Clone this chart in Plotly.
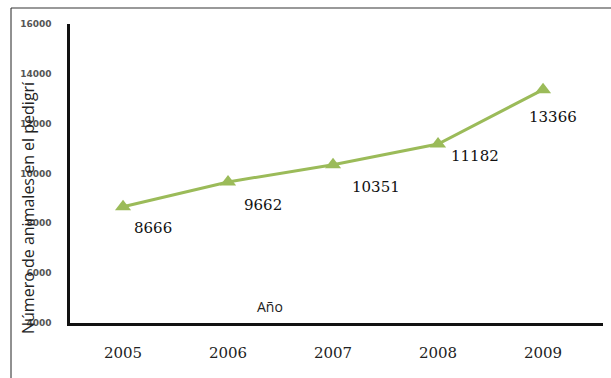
import plotly.graph_objects as go

years = ["2005", "2006", "2007", "2008", "2009"]
animals = [8666, 9662, 10351, 11182, 13366]
y_ticks = [4000, 6000, 8000, 10000, 12000, 14000, 16000]
label_dx = [30, 35, 43, 37, 10]
label_dy = [-21, -23, -22, -12, -27]

W, H = 611, 378
L, R, T, B = 70, 8, 24, 55
pw, ph = W - L - R, H - T - B

def px(x):
    return (x - L) / pw

def py(y):
    return (H - B - y) / ph

xs = list(range(len(years)))

fig = go.Figure()
fig.add_trace(go.Scatter(
    x=xs, y=animals, mode="lines+markers",
    line=dict(color="#9BBB59", width=3),
    marker=dict(symbol="triangle-up", size=14, color="#9BBB59"),
    showlegend=False, hoverinfo="skip",
))

for i, (xv, yv) in enumerate(zip(xs, animals)):
    fig.add_annotation(
        x=xv, y=yv, text=str(yv), showarrow=False,
        xshift=label_dx[i], yshift=label_dy[i],
        xanchor="center", yanchor="middle",
        font=dict(family="DejaVu Serif", size=15, color="#111"),
    )

fig.add_annotation(
    xref="paper", yref="paper", x=px(28), y=py(208),
    xanchor="center", yanchor="middle",
    text="Número de animales en el pedigrí", textangle=-90, showarrow=False,
    font=dict(family="Open Sans", size=16, color="#222"),
)
fig.add_annotation(
    xref="paper", yref="paper", x=px(270), y=py(306),
    xanchor="center", yanchor="middle",
    text="Año", showarrow=False,
    font=dict(family="Open Sans", size=14, color="#222"),
)

# outer frame (top and left)
fig.add_shape(type="line", xref="paper", yref="paper",
              x0=px(11), x1=px(611), y0=py(8), y1=py(8),
              line=dict(color="#777", width=1.5))
fig.add_shape(type="line", xref="paper", yref="paper",
              x0=px(11), x1=px(11), y0=py(8), y1=py(378),
              line=dict(color="#222", width=1))

fig.update_xaxes(
    range=[-0.505, 4.571], tickmode="array", tickvals=xs, ticktext=years,
    showgrid=False, zeroline=False, showline=True, linecolor="#111", linewidth=2.5,
    ticks="", ticklabelstandoff=14,
    tickfont=dict(family="DejaVu Serif", size=15, color="#222"),
)
fig.update_yaxes(
    range=[4000, 16000], tickmode="array", tickvals=y_ticks,
    ticktext=[str(v) for v in y_ticks],
    showgrid=False, zeroline=False, showline=True, linecolor="#111", linewidth=2.5,
    ticks="", ticklabelstandoff=14,
    tickfont=dict(family="DejaVu Sans", size=9, color="#555", weight="bold"),
)

fig.update_layout(
    width=W, height=H, margin=dict(l=L, r=R, t=T, b=B),
    paper_bgcolor="white", plot_bgcolor="white",
)
fig.write_html("out.html")
